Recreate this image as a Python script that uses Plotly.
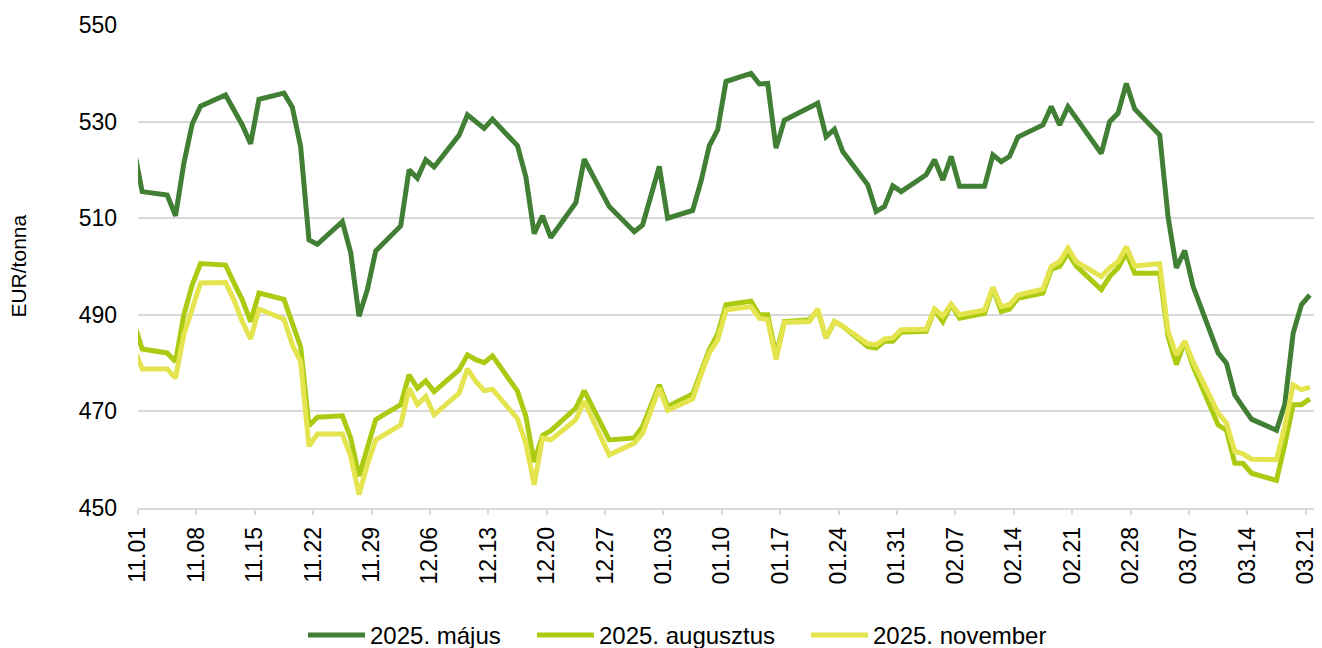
import pandas as pd
import plotly.graph_objects as go

dates = [
    "2024-10-31", "2024-11-01",
    "2024-11-04", "2024-11-05", "2024-11-06", "2024-11-07", "2024-11-08",
    "2024-11-11", "2024-11-12", "2024-11-13", "2024-11-14", "2024-11-15",
    "2024-11-18", "2024-11-19", "2024-11-20", "2024-11-21", "2024-11-22",
    "2024-11-25", "2024-11-26", "2024-11-27", "2024-11-28", "2024-11-29",
    "2024-12-02", "2024-12-03", "2024-12-04", "2024-12-05", "2024-12-06",
    "2024-12-09", "2024-12-10", "2024-12-11", "2024-12-12", "2024-12-13",
    "2024-12-16", "2024-12-17", "2024-12-18", "2024-12-19", "2024-12-20",
    "2024-12-23", "2024-12-24", "2024-12-27", "2024-12-30", "2024-12-31",
    "2025-01-02", "2025-01-03",
    "2025-01-06", "2025-01-07", "2025-01-08", "2025-01-09", "2025-01-10",
    "2025-01-13", "2025-01-14", "2025-01-15", "2025-01-16", "2025-01-17",
    "2025-01-20", "2025-01-21", "2025-01-22", "2025-01-23", "2025-01-24",
    "2025-01-27", "2025-01-28", "2025-01-29", "2025-01-30", "2025-01-31",
    "2025-02-03", "2025-02-04", "2025-02-05", "2025-02-06", "2025-02-07",
    "2025-02-10", "2025-02-11", "2025-02-12", "2025-02-13", "2025-02-14",
    "2025-02-17", "2025-02-18", "2025-02-19", "2025-02-20", "2025-02-21",
    "2025-02-24", "2025-02-25", "2025-02-26", "2025-02-27", "2025-02-28",
    "2025-03-03", "2025-03-04", "2025-03-05", "2025-03-06", "2025-03-07",
    "2025-03-10", "2025-03-11", "2025-03-12", "2025-03-13", "2025-03-14",
    "2025-03-17", "2025-03-18", "2025-03-19", "2025-03-20", "2025-03-21",
]

may_2025 = [
    524.5, 515.5,
    514.8, 510.5, 521.4, 529.5, 533.2,
    535.5, 532.4, 529.3, 525.4, 534.6,
    535.9, 533.0, 524.8, 505.5, 504.6,
    509.3, 502.9, 489.7, 495.2, 503.2,
    508.4, 520.0, 518.3, 522.1, 520.6,
    527.2, 531.4, 530.0, 528.6, 530.5,
    525.0, 518.6, 506.8, 510.5, 506.0,
    513.2, 522.2, 512.4, 507.2, 508.6,
    520.7, 510.0,
    511.6, 517.6, 525.0, 528.3, 538.3,
    540.0, 537.8, 537.9, 524.5, 530.3,
    532.9, 533.8, 526.9, 528.4, 523.8,
    516.9, 511.4, 512.4, 516.7, 515.5,
    519.0, 522.1, 517.9, 522.8, 516.6,
    516.6, 523.1, 521.7, 522.8, 526.8,
    529.3, 533.1, 529.3, 533.1, 530.7,
    523.4, 530.0, 531.7, 537.9, 532.6,
    527.2, 510.3, 499.7, 503.3, 495.9,
    482.1, 480.0, 473.4, 470.9, 468.4,
    466.1, 471.5, 486.2, 492.1, 494.1,
]

aug_2025 = [
    488.4, 482.9,
    482.1, 480.3, 490.0, 496.2, 500.6,
    500.3, 496.6, 493.1, 488.6, 494.5,
    493.2, 488.3, 483.4, 467.0, 468.8,
    469.1, 464.5, 456.6, 462.4, 468.3,
    471.4, 477.6, 474.8, 476.3, 474.1,
    478.6, 481.7, 480.7, 480.1, 481.5,
    474.2, 469.0, 459.5, 465.0, 466.0,
    470.7, 474.3, 464.1, 464.5, 466.9,
    475.5, 471.0,
    473.6, 478.3, 482.8, 486.0, 492.1,
    492.8, 490.0, 490.0, 481.7, 488.6,
    489.0, 490.9, 485.2, 488.6, 487.6,
    483.4, 483.1, 484.5, 484.5, 486.4,
    486.6, 491.0, 488.6, 492.1, 489.3,
    490.3, 495.5, 490.7, 491.2, 493.4,
    494.5, 499.4, 500.0, 502.8, 500.1,
    495.2, 497.9, 499.7, 502.8, 498.6,
    498.6, 485.5, 479.7, 484.5, 479.3,
    467.2, 466.1, 459.3, 459.2, 457.2,
    455.7, 463.1, 471.4, 471.4, 472.6,
]

nov_2025 = [
    483.0, 478.8,
    478.8, 476.9, 485.9, 491.7, 496.6,
    496.7, 493.1, 488.6, 485.0, 491.2,
    489.1, 483.8, 480.3, 462.8, 465.3,
    465.3, 460.7, 452.8, 459.0, 464.1,
    467.2, 474.8, 471.4, 473.1, 469.3,
    473.8, 478.8, 476.2, 474.3, 474.6,
    468.5, 463.4, 454.8, 464.5, 464.1,
    468.3, 472.1, 461.0, 463.4, 465.5,
    474.8, 470.2,
    472.6, 477.6, 482.1, 484.8, 491.0,
    491.7, 489.3, 489.0, 480.7, 488.4,
    488.6, 491.2, 485.2, 488.6, 487.6,
    484.0, 483.8, 485.0, 485.2, 486.9,
    487.0, 491.2, 489.7, 492.2, 490.0,
    491.0, 495.7, 491.7, 492.1, 494.1,
    495.3, 500.0, 501.0, 503.8, 501.0,
    497.9, 499.7, 501.0, 504.1, 500.1,
    500.6, 486.6, 481.7, 484.5, 480.3,
    469.7, 467.6, 461.7, 461.2, 460.1,
    460.0, 466.9, 475.5, 474.5, 475.0,
]

tick_dates = [
    "2024-11-01", "2024-11-08", "2024-11-15", "2024-11-22", "2024-11-29",
    "2024-12-06", "2024-12-13", "2024-12-20", "2024-12-27", "2025-01-03",
    "2025-01-10", "2025-01-17", "2025-01-24", "2025-01-31", "2025-02-07",
    "2025-02-14", "2025-02-21", "2025-02-28", "2025-03-07", "2025-03-14",
    "2025-03-21",
]
tick_labels = [
    "11.01", "11.08", "11.15", "11.22", "11.29", "12.06", "12.13", "12.20",
    "12.27", "01.03", "01.10", "01.17", "01.24", "01.31", "02.07", "02.14",
    "02.21", "02.28", "03.07", "03.14", "03.21",
]
y_ticks = [450, 470, 490, 510, 530, 550]

series_names = ["2025. május", "2025. augusztus", "2025. november"]
series_colors = ["#417F35", "#AACB12", "#E3E44E"]

# each day is drawn in the middle of its day slot (date axis, between tick marks)
x = pd.to_datetime(dates) + pd.Timedelta(hours=12)

FONT = "Liberation Sans, Arial, sans-serif"
legend_ids = ["legend", "legend2", "legend3"]
legend_x = [0.1403, 0.3350, 0.5680]

fig = go.Figure()
for name, vals, col, lid in zip(series_names, [may_2025, aug_2025, nov_2025],
                                series_colors, legend_ids):
    fig.add_trace(go.Scatter(
        x=x, y=vals, mode="lines", name=name, legend=lid,
        line=dict(color=col, width=5),
    ))

legend_common = dict(
    orientation="h", y=-0.3106, yanchor="bottom", xanchor="left",
    font=dict(family=FONT, size=24, color="#000000"),
    itemwidth=57, borderwidth=0, bgcolor="rgba(0,0,0,0)",
)

fig.update_layout(
    width=1314, height=660,
    margin=dict(l=130, r=8, t=17, b=160),
    paper_bgcolor="white", plot_bgcolor="white",
    font=dict(family=FONT, size=21, color="#000000"),
    showlegend=True,
    legend=dict(x=legend_x[0], **legend_common),
    legend2=dict(x=legend_x[1], **legend_common),
    legend3=dict(x=legend_x[2], **legend_common),
    xaxis=dict(
        type="date",
        range=["2024-11-01", "2025-03-22"],
        tickmode="array",
        tickvals=pd.to_datetime(tick_dates),
        ticktext=tick_labels,
        tickangle=-90,
        showgrid=False,
        showline=True, linecolor="#D9D9D9", linewidth=1.5,
        ticks="outside", ticklen=5, tickcolor="#D9D9D9", tickwidth=1.5,
        tickfont=dict(family=FONT, size=23, color="#000000"),
        ticklabelstandoff=3,
        ticklabeloverflow="allow",
        automargin=False,
        zeroline=False,
    ),
    yaxis=dict(
        range=[450, 550],
        tickmode="array", tickvals=y_ticks,
        showgrid=True, gridcolor="#D9D9D9", gridwidth=1.5,
        showline=False, ticks="", zeroline=False,
        tickfont=dict(family=FONT, size=23, color="#000000"),
        ticklabelstandoff=20,
        automargin=False,
    ),
    annotations=[dict(
        text="EUR/tonna", textangle=-90,
        xref="paper", yref="paper", x=-0.102, y=0.5,
        xanchor="center", yanchor="middle", showarrow=False,
        font=dict(family=FONT, size=21, color="#000000"),
    )],
)

fig.write_html("out.html")
